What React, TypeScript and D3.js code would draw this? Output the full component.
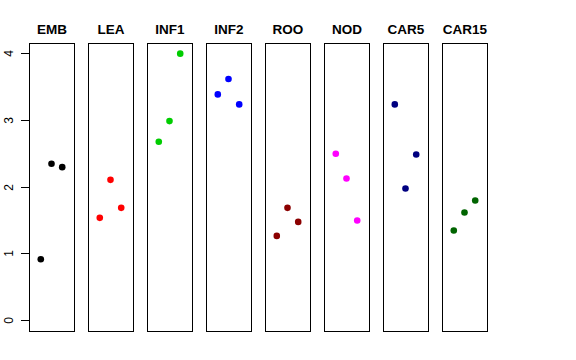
import * as d3 from 'd3';

// tissue panels
const tissues = ['EMB', 'LEA', 'INF1', 'INF2', 'ROO', 'NOD', 'CAR5', 'CAR15'];
const colors = ['#000000', '#FF0000', '#00CD00', '#0000FF', '#8B0000', '#FF00FF', '#000080', '#006400'];
// three replicates per tissue (left, middle, right)
const rep1 = [0.91, 1.53, 2.67, 3.38, 1.26, 2.49, 3.23, 1.34];
const rep2 = [2.34, 2.10, 2.98, 3.61, 1.68, 2.12, 1.97, 1.61];
const rep3 = [2.29, 1.68, 3.99, 3.23, 1.47, 1.49, 2.48, 1.79];
const yTicks = [0, 1, 2, 3, 4];

const W = 576;
const H = 360;
const panelTop = 43;
const panelBottom = 331;
const firstLeft = 29;
const panelW = 45;
const pitch = 59;

export default function App() {
  const y = d3.scaleLinear().domain([0, 4]).range([320, 53]);
  const x = d3.scaleLinear().domain([-0.1, 4.1]).range([0, panelW]);
  const panelX = d3.scaleLinear().domain([0, 1]).range([firstLeft, firstLeft + pitch]);

  return (
    <svg width={W} height={H} style={{ position: 'absolute', left: 0, top: 0, background: '#fff' }}
      fontFamily="Liberation Sans, Arial, sans-serif">
      {/* y axis ticks (axis line sits on the first panel border) */}
      <g>
        {yTicks.map(t => (
          <g key={t} transform={`translate(0,${Math.round(y(t)) + 0.5})`}>
            <line x1={21} x2={firstLeft} stroke="#000" />
            <text transform="translate(12.5,0) rotate(-90)" textAnchor="middle" fontSize={12}>{t}</text>
          </g>
        ))}
      </g>
      {tissues.map((name, i) => {
        const left = Math.round(panelX(i));
        const vals = [rep1[i], rep2[i], rep3[i]];
        return (
          <g key={name} transform={`translate(${left},0)`}>
            <rect x={0.5} y={panelTop + 0.5} width={panelW} height={panelBottom - panelTop}
              fill="none" stroke="#000" />
            <text x={panelW / 2 + 0.5} y={34} textAnchor="middle" fontSize={13.5} fontWeight="bold">{name}</text>
            {vals.map((v, j) => (
              <circle key={j} cx={x(j + 1)} cy={y(v)} r={3.3} fill={colors[i]} />
            ))}
          </g>
        );
      })}
    </svg>
  );
}
